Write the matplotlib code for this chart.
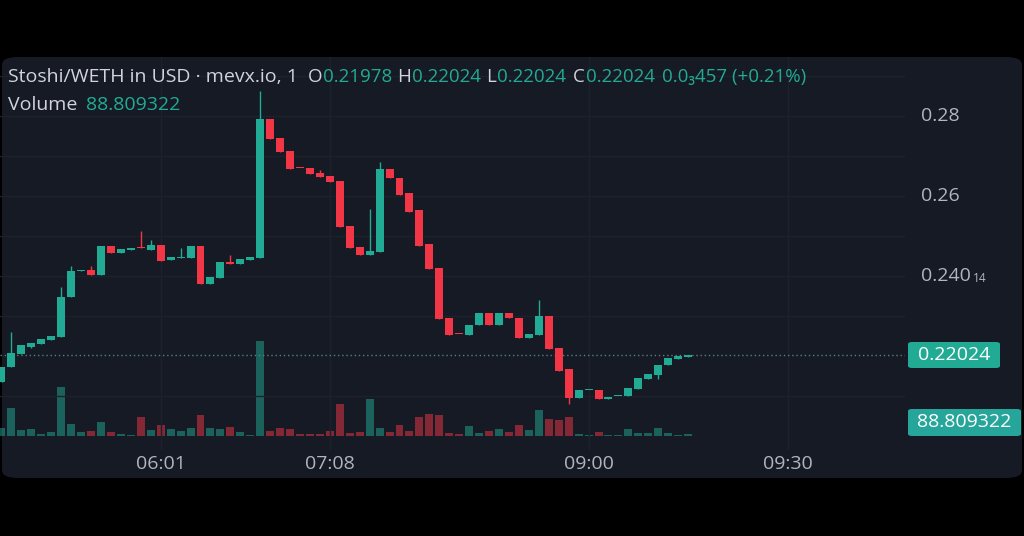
import matplotlib.pyplot as plt
from matplotlib.patches import FancyBboxPatch

# OHLC, one candle per slot
opens = [0.2135, 0.21725, 0.2205, 0.22225, 0.223, 0.224, 0.22475, 0.23475, 0.24125, 0.2415,
         0.24025, 0.2475, 0.24575, 0.2465, 0.247, 0.2465, 0.24775, 0.244, 0.2445, 0.2445,
         0.2475, 0.238, 0.2395, 0.2435, 0.243, 0.244, 0.2445, 0.27925, 0.2745, 0.27125,
         0.267, 0.267, 0.26575, 0.265, 0.26375, 0.2525, 0.24725, 0.24525, 0.246, 0.26675,
         0.2645, 0.26075, 0.2565, 0.248, 0.242, 0.2295, 0.2255, 0.22525, 0.22775, 0.23075,
         0.22775, 0.23075, 0.2295, 0.2245, 0.22525, 0.23, 0.222, 0.21675, 0.2095, 0.2115,
         0.2115, 0.20925, 0.21, 0.21, 0.21175, 0.21425, 0.21525, 0.21775, 0.21925, 0.21978]
closes = [0.21725, 0.22075, 0.22275, 0.22325, 0.22425, 0.225, 0.23475, 0.24125, 0.2415, 0.24025,
          0.2475, 0.24575, 0.24675, 0.247, 0.24695, 0.24775, 0.24375, 0.24475, 0.24455, 0.2475,
          0.238, 0.23975, 0.2435, 0.243, 0.24425, 0.24475, 0.27925, 0.27425, 0.271, 0.26675,
          0.26695, 0.2655, 0.26475, 0.2635, 0.25225, 0.247, 0.24525, 0.24625, 0.26675, 0.2645,
          0.26025, 0.256, 0.2475, 0.24175, 0.22925, 0.22525, 0.22545, 0.22775, 0.23075, 0.22775,
          0.23075, 0.2295, 0.2245, 0.2255, 0.23, 0.22175, 0.21625, 0.2095, 0.2115, 0.21155,
          0.20925, 0.20975, 0.21005, 0.212, 0.2145, 0.2155, 0.21775, 0.2195, 0.22, 0.22024]
highs = [0.21725, 0.226, 0.22275, 0.22325, 0.22425, 0.225, 0.23725, 0.2425, 0.2415, 0.2425,
         0.2475, 0.2475, 0.24675, 0.247, 0.25125, 0.249, 0.24775, 0.24475, 0.247, 0.2475,
         0.2475, 0.23975, 0.2435, 0.24525, 0.24425, 0.24475, 0.28625, 0.27925, 0.2745, 0.27125,
         0.267, 0.267, 0.2665, 0.265, 0.26375, 0.2525, 0.24725, 0.25675, 0.2685, 0.26675,
         0.2645, 0.26075, 0.2565, 0.248, 0.242, 0.2295, 0.2255, 0.22775, 0.23075, 0.23075,
         0.23075, 0.23075, 0.2295, 0.2255, 0.234, 0.23, 0.222, 0.21675, 0.2115, 0.21155,
         0.2115, 0.20975, 0.21005, 0.212, 0.2145, 0.2155, 0.21775, 0.2195, 0.22, 0.22024]
lows = [0.2135, 0.21725, 0.2205, 0.222, 0.223, 0.224, 0.22475, 0.23475, 0.24125, 0.24025,
        0.24025, 0.24575, 0.24575, 0.2465, 0.24695, 0.2465, 0.24375, 0.244, 0.2445, 0.2445,
        0.238, 0.238, 0.2395, 0.243, 0.243, 0.244, 0.2445, 0.27425, 0.271, 0.26675,
        0.26695, 0.2655, 0.26475, 0.2635, 0.25225, 0.247, 0.24525, 0.24525, 0.246, 0.2645,
        0.26025, 0.256, 0.2475, 0.24175, 0.22925, 0.22525, 0.2255, 0.22525, 0.22775, 0.22775,
        0.22775, 0.2295, 0.2245, 0.2245, 0.22525, 0.22175, 0.21625, 0.208, 0.2095, 0.2115,
        0.20925, 0.20925, 0.21, 0.21, 0.21175, 0.21425, 0.21425, 0.21775, 0.21925, 0.21978]
volumes = [355, 1243, 266, 311, 89, 178, 2176, 533, 178, 222,
           622, 178, 89, 44, 844, 266, 488, 311, 222, 355,
           932, 355, 311, 400, 178, 44, 4218, 222, 355, 311,
           89, 89, 89, 222, 1421, 133, 178, 1643, 355, 178,
           488, 222, 844, 977, 932, 133, 89, 444, 133, 222,
           311, 178, 488, 266, 1154, 755, 710, 844, 89, 44,
           178, 44, 44, 311, 133, 133, 355, 133, 44, 88.809322]

time_ticks = [16, 33, 59, 79]
time_labels = ['06:01', '07:08', '09:00', '09:30']
price_ticks = [0.28, 0.26, 0.24]
last_price = 0.22024
last_volume = 88.809322

UP = '#22ab94'
DOWN = '#f23645'
BG = '#161a25'
GRID = '#1d212c'
TXT = '#b2b5be'
LBL = '#d1d4dc'
FS = 14

W, H = 1024, 536
plt.rcParams['font.family'] = ['Open Sans', 'DejaVu Sans']
fig = plt.figure(figsize=(W / 100, H / 100), dpi=100, facecolor='black')

# rounded chart panel, kept behind the axes
fig.patches.append(FancyBboxPatch((2 / W, 1 - 478 / H), 1020 / W, 421 / H,
                                  boxstyle='round,pad=0,rounding_size=0.015',
                                  transform=fig.transFigure, facecolor=BG,
                                  edgecolor='none', zorder=-5))

pos = [0, 1 - 450 / H, 905 / W, (450 - 57) / H]
vax = fig.add_axes(pos)
ax = fig.add_axes(pos, sharex=vax)
for a in (vax, ax):
    a.set_facecolor('none')
    a.patch.set_visible(False)
    for s in a.spines.values():
        s.set_visible(False)
    a.tick_params(left=False, bottom=False, labelleft=False, labelbottom=False)

x = list(range(len(opens)))
cols = [UP if c >= o else DOWN for o, c in zip(opens, closes)]

# volume pane
vol_px = 44.4
vax.bar(x, volumes, width=0.8, color=cols, alpha=0.5, linewidth=0)
vax.set_ylim(-(450 - 436) * vol_px, (436 - 57) * vol_px)

# grid
for t in time_ticks:
    ax.axvline(t, color=GRID, lw=1, zorder=0)
for p in [0.29, 0.28, 0.27, 0.26, 0.25, 0.24, 0.23, 0.21]:
    ax.axhline(p, color=GRID, lw=1, zorder=0)

# candles
ax.vlines(x, lows, highs, colors=cols, lw=1, zorder=2)
bottoms = [min(o, c) for o, c in zip(opens, closes)]
heights = [max(abs(c - o), 0.00028) for o, c in zip(opens, closes)]
ax.bar(x, heights, bottom=bottoms, width=0.8, color=cols, linewidth=0, zorder=3)

ax.axhline(last_price, color='#5b7f7a', lw=1, ls=(0, (1, 2)), zorder=1)

ax.set_xlim(-0.151, 90.8)
ax.set_ylim(0.28 - 334 / 4000, 0.28 + 59 / 4000)

# price scale labels
ty = ax.get_yaxis_transform()
for p in price_ticks[:2]:
    ax.text(921 / 905, p, f'{p:.2f}', transform=ty, color=TXT, fontsize=FS,
            va='center', ha='left', clip_on=False)
ax.text(921 / 905, 0.24, '0.240', transform=ty, color=TXT, fontsize=FS,
        va='center', ha='left', clip_on=False)
ax.text(973 / 905, 0.2393, '14', transform=ty, color=TXT, fontsize=8.5,
        va='center', ha='left', clip_on=False)

# last price / volume tags
fig.patches.append(FancyBboxPatch((908 / W, 1 - 368 / H), 92 / W, 26 / H,
                                  boxstyle='round,pad=0,rounding_size=0.004',
                                  transform=fig.transFigure, facecolor=UP, edgecolor='none'))
fig.text(954 / W, 1 - 355 / H, f'{last_price:.5f}', color='white', fontsize=FS,
         ha='center', va='center')
fig.patches.append(FancyBboxPatch((908 / W, 1 - 436 / H), 113 / W, 27 / H,
                                  boxstyle='round,pad=0,rounding_size=0.004',
                                  transform=fig.transFigure, facecolor='#26a69a', edgecolor='none'))
fig.text(964 / W, 1 - 422 / H, f'{last_volume:.6f}', color='white', fontsize=FS,
         ha='center', va='center')

# time labels
for t, lab in zip(time_ticks, time_labels):
    ax.text(t, -0.012, lab, transform=ax.get_xaxis_transform(), color=TXT,
            fontsize=FS, ha='center', va='top', clip_on=False)

# header legend at the positions
HFS = 13.5
hy = 1 - 77 / H
fig.text(8 / W, hy, 'Stoshi/WETH in USD · mevx.io, 1', color=LBL, fontsize=14, va='center')
for lab, xv, val in [('O', 323, '0.21978'), ('H', 412, '0.22024'),
                     ('L', 497, '0.22024'), ('C', 586, '0.22024')]:
    fig.text((xv - 1) / W, hy, lab, color=LBL, fontsize=HFS, va='center', ha='right')
    fig.text(xv / W, hy, val, color=UP, fontsize=HFS, va='center')
fig.text(662 / W, hy, '0.0₃457 (+0.21%)', color=UP, fontsize=HFS, va='center')
fig.text(8 / W, 1 - 105 / H, 'Volume', color=LBL, fontsize=14, va='center')
fig.text(86 / W, 1 - 105 / H, '88.809322', color=UP, fontsize=14, va='center')

fig.savefig('out.png', dpi=100, facecolor='black')
